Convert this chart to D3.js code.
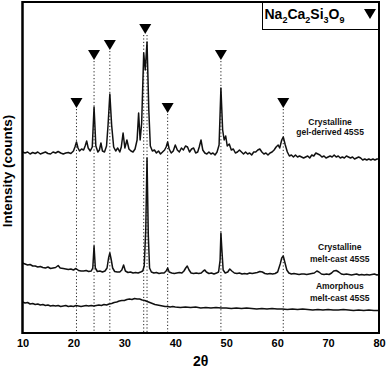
<!DOCTYPE html>
<html>
<head>
<meta charset="utf-8">
<script src="https://cdn.jsdelivr.net/npm/d3@7"></script>
<style>
  body { margin: 0; background: #fff; }
  svg { display: block; font-family: Arial, "Liberation Sans", sans-serif; }
</style>
</head>
<body>
<svg id="chart" width="387" height="368"></svg>
<script>
// XRD patterns of 45S5 samples
// counts are arbitrary units, each pattern already carries its vertical offset

const xTicks = [10, 20, 30, 40, 50, 60, 70, 80];

// crystalline gel-derived 45S5 (top trace)
const gelDerived = [
  [10,181],[10.5,180],[11,181],[11.5,179],[12,180.5],[12.5,179.5],[13,181],[13.5,179],[14,180],[14.5,181],
  [15,179.5],[15.5,179],[16,181],[16.5,180],[17,181.5],[17.5,180],[18,179],[18.5,180],[19,180.5],[19.5,179.5],
  [20,182],[20.3,186],[20.6,191],[20.9,185],[21.2,182],[21.6,184],[22,183],[22.3,187],[22.6,192],[22.9,185],
  [23.3,182],[23.7,186],[24.05,226],[24.4,187],[24.8,181],[25.1,183],[25.4,190],[25.7,182],[26.1,181],[26.5,187],
  [26.8,208],[27.15,239],[27.5,208],[27.9,186],[28.3,182],[28.7,185],[29.1,181],[29.4,186],[29.75,200],[30.1,185],
  [30.5,193],[30.9,184],[31.3,182],[31.7,181],[32.1,184],[32.5,193],[32.8,220],[33.1,193],[33.4,210],[33.8,280],
  [34.1,263],[34.45,291],[34.8,223],[35.1,187],[35.5,182],[35.9,183],[36.3,180],[36.7,182],[37.1,179],[37.5,181],
  [37.9,183],[38.2,186],[38.5,191],[38.8,184],[39.2,180],[39.6,182],[40,188],[40.4,183],[40.8,181],[41.2,185],
  [41.6,183],[42,187],[42.4,186],[42.8,181],[43.2,184],[43.6,185],[44,180],[44.4,181],[44.7,186],[45.05,193],
  [45.4,183],[45.8,180],[46.2,179],[46.6,181],[47,179],[47.4,180],[47.8,178],[48.2,181],[48.6,188],[48.96,245],
  [49.3,203],[49.6,193],[49.9,197],[50.2,187],[50.6,189],[51,183],[51.4,184],[51.8,180],[52.2,181],[52.6,183],
  [53,181],[53.4,179],[53.8,181],[54.2,179],[54.6,180],[55,178],[55.4,181],[55.8,181],[56.2,183],[56.6,184],
  [57,181],[57.4,179],[57.8,180],[58.2,178],[58.6,180],[59,181],[59.4,183],[59.8,186],[60.2,188],[60.5,185],
  [60.9,193],[61.2,196],[61.6,188],[62,181],[62.4,177],[62.8,178],[63.2,176],[63.6,178],[64,176],[64.4,177],
  [64.8,176],[65.2,175],[65.6,176],[66,177],[66.4,175],[66.8,178],[67.2,177],[67.6,180],[68,179],[68.4,178],
  [68.8,176],[69.2,177],[69.6,175],[70,176],[70.4,177],[70.8,176],[71.2,178],[71.6,176],[72,177],[72.4,175],
  [72.8,176],[73.2,175],[73.6,177],[74,176],[74.4,175],[74.8,176],[75.2,174],[75.6,175],[76,176],[76.4,175],
  [76.8,173],[77.2,174],[77.6,173],[78,174],[78.4,173],[78.8,174],[79.2,173],[79.6,174],[80,174]
];

// crystalline melt-cast 45S5 (middle trace)
const meltCrystalline = [
  [10,70],[10.5,69],[11,68],[11.5,68.5],[12,67],[12.5,67],[13,66],[13.5,66.5],[14,65.5],[14.5,65],
  [15,66],[15.5,64.5],[16,65],[16.5,65.5],[17,67.5],[17.4,65],[18,64.5],[18.5,64],[19,63.5],[19.5,64],
  [20,63],[20.5,64.5],[21,62.5],[21.5,62],[22,62],[22.5,62.5],[23,61.5],[23.5,62],[23.8,65],[24.05,87],
  [24.3,65],[24.7,61.5],[25.2,62],[25.7,61],[26.2,62],[26.6,65],[26.9,75],[27.15,80],[27.4,74],[27.7,65],
  [28.1,61.5],[28.6,61],[29.1,61],[29.5,63],[29.85,68],[30.2,62],[30.7,60.5],[31.2,61],[31.7,60],[32.2,60.5],
  [32.7,60],[33.2,61],[33.6,62],[33.9,67],[34.2,103],[34.45,175],[34.7,98],[34.95,65],[35.3,61],[35.8,60],
  [36.3,60.5],[36.8,59.5],[37.3,60],[37.8,60],[38.2,62],[38.5,65],[38.8,61],[39.3,60],[39.8,59.5],[40.3,60],
  [40.8,60.5],[41.3,60],[41.7,62],[42.05,65],[42.35,67],[42.7,63],[43.1,60],[43.6,59.5],[44.1,60],[44.6,59.5],
  [45.1,60],[45.5,62],[45.8,63],[46.1,61],[46.6,59.5],[47.1,60],[47.6,59],[48.1,60],[48.5,61],[48.8,73],
  [48.96,100],[49.15,83],[49.4,63],[49.8,60],[50.3,61],[50.7,64],[51.1,62],[51.6,60],[52.1,59.5],[52.6,60],
  [53.1,59],[53.6,59.5],[54.1,59],[54.6,60],[55.1,59.5],[55.6,60],[56.1,60.5],[56.6,61.5],[57.1,61],[57.6,59.5],
  [58.1,59],[58.6,59.5],[59.1,59],[59.6,59.5],[60.1,61],[60.6,69],[60.9,75],[61.2,77],[61.5,71],[61.9,63],
  [62.3,60],[62.8,59],[63.3,59.5],[63.8,59],[64.3,58.5],[64.8,59],[65.3,59],[65.8,58.5],[66.3,59],[66.8,59.5],
  [67.3,60],[67.8,62],[68.2,61],[68.7,59],[69.2,58.5],[69.7,59],[70.2,58.5],[70.7,60],[71.1,62],[71.6,62.5],
  [72.1,61],[72.6,59],[73.1,58.5],[73.6,59],[74.1,58.5],[74.6,58],[75.1,58.5],[75.6,59],[76.1,58],[76.6,58.5],
  [77.1,58],[77.6,58.5],[78.1,58],[78.6,58.5],[79.1,59],[79.6,58],[80,58.5]
];

// amorphous melt-cast 45S5 (bottom trace)
const meltAmorphous = [
  [10,31],[10.5,30],[11,30.5],[11.5,29],[12,29.5],[12.5,28.5],[13,29],[13.5,28],[14,28.5],[14.5,27.5],
  [15,28],[15.5,27],[16,27.5],[16.5,27],[17,27.5],[17.5,26.5],[18,27],[18.5,27.5],[19,26.5],[19.5,27],
  [20,26.5],[20.5,27.5],[21,27],[21.5,26.5],[22,27],[22.5,27.5],[23,27],[23.5,27.5],[24,27],[24.5,27.5],
  [25,28],[25.5,27.5],[26,28.5],[26.5,28],[27,29],[27.5,29.5],[28,30.5],[28.5,31],[29,32],[29.5,32.5],
  [30,32.5],[30.5,33.5],[31,34],[31.5,33.5],[32,34.5],[32.5,34],[33,34],[33.5,33],[34,32.5],[34.5,31.5],
  [35,30.5],[35.5,29.5],[36,28.5],[36.5,28],[37,27.5],[37.5,27],[38,26.5],[38.5,26.5],[39,26],[39.5,26.5],
  [40,26],[41,25.5],[42,26],[43,25.5],[44,26],[45,25],[46,25.5],[47,25],[48,25.5],[49,25],
  [50,25],[51,24.5],[52,25],[53,24.5],[54,25],[55,24.5],[56,24],[57,24.5],[58,24],[59,24.5],
  [60,24],[61,24],[62,23.5],[63,24],[64,23.5],[65,24],[66,23.5],[67,23],[68,23.5],[69,23],
  [70,23.5],[71,23],[72,23],[73,23.5],[74,23],[75,22.5],[76,23],[77,22.5],[78,23],[79,22.5],[80,22.5]
];

// Na2Ca2Si3O9 reflections: marker positions and the height of each marker
const peakAngles = [20.6, 24.05, 27.15, 34.1, 38.5, 48.96, 61.2];
const peakMarkerCounts = [235, 283, 293, 309, 230, 283, 235];
// dotted guide lines (the 34 deg marker covers two reflections)
const guideAngles = [20.6, 24.05, 27.15, 33.8, 34.45, 38.5, 48.96, 61.2];

const formulaParts = [['Na', '2'], ['Ca', '2'], ['Si', '3'], ['O', '9']];

const traceLabels = [
  { lines: ['Crystalline', 'gel-derived 45S5'], angle: 70.4, counts: [208, 198] },
  { lines: ['Crystalline', 'melt-cast 45S5'], angle: 72.3, counts: [83, 71.5] },
  { lines: ['Amorphous', 'melt-cast 45S5'], angle: 72.3, counts: [44, 32] }
];

const MARGIN = { left: 22.5, right: 8, top: 2, bottom: 35 };
const WIDTH = 387, HEIGHT = 368;

const svg = d3.select('#chart');

const xScale = d3.scaleLinear()
  .domain([10, 80])
  .range([MARGIN.left, WIDTH - MARGIN.right]);
const yScale = d3.scaleLinear()
  .domain([0, 331])
  .range([HEIGHT - MARGIN.bottom, MARGIN.top]);

// guide lines first so the traces sit on top
const triH = 10, triW = 6;
svg.append('g')
  .selectAll('line')
  .data(guideAngles)
  .join('line')
  .attr('x1', d => xScale(d))
  .attr('x2', d => xScale(d))
  .attr('y1', d => {
    // hang from the nearest marker
    let i = d3.leastIndex(peakAngles, a => Math.abs(a - d));
    return yScale(peakMarkerCounts[i]) + triH + 1;
  })
  .attr('y2', yScale(0))
  .attr('stroke', '#222')
  .attr('stroke-width', 1)
  .attr('stroke-dasharray', '1.2,2.2');

const line = d3.line()
  .x(d => xScale(d[0]))
  .y(d => yScale(d[1]));

svg.append('g')
  .selectAll('path')
  .data([gelDerived, meltCrystalline, meltAmorphous])
  .join('path')
  .attr('d', line)
  .attr('fill', 'none')
  .attr('stroke', '#111')
  .attr('stroke-width', 1.5)
  .attr('stroke-linejoin', 'round');

// down-pointing triangles
const triPath = `M${-triW},0 L${triW},0 L0,${triH} Z`;
svg.append('g')
  .selectAll('path')
  .data(peakAngles)
  .join('path')
  .attr('d', triPath)
  .attr('transform', (d, i) => `translate(${xScale(d)},${yScale(peakMarkerCounts[i])})`)
  .attr('fill', '#000');

// trace labels
traceLabels.forEach(lb => {
  lb.lines.forEach((t, j) => {
    svg.append('text')
      .attr('x', xScale(lb.angle))
      .attr('y', yScale(lb.counts[j]))
      .attr('text-anchor', 'middle')
      .attr('font-size', '8.5px')
      .attr('font-weight', 'bold')
      .attr('fill', '#111')
      .text(t);
  });
});

// frame
svg.append('rect')
  .attr('x', MARGIN.left)
  .attr('y', MARGIN.top)
  .attr('width', WIDTH - MARGIN.right - MARGIN.left)
  .attr('height', HEIGHT - MARGIN.bottom - MARGIN.top)
  .attr('fill', 'none')
  .attr('stroke', '#000')
  .attr('stroke-width', 2);

// x axis: labels only
const xAxis = svg.append('g')
  .attr('transform', `translate(0,${yScale(0)})`)
  .call(d3.axisBottom(xScale).tickValues(xTicks).tickSize(0).tickPadding(6));
xAxis.select('.domain').remove();
xAxis.selectAll('text')
  .attr('font-size', '11px')
  .attr('font-weight', 'bold')
  .attr('font-family', 'Arial, "Liberation Sans", sans-serif')
  .attr('fill', '#000');

svg.append('text')
  .attr('x', (MARGIN.left + WIDTH - MARGIN.right) / 2)
  .attr('y', 366)
  .attr('text-anchor', 'middle')
  .attr('font-size', '14px')
  .attr('font-weight', 'bold')
  .text('2θ');

svg.append('text')
  .attr('transform', 'translate(12,171) rotate(-90)')
  .attr('text-anchor', 'middle')
  .attr('font-size', '13.5px')
  .attr('font-weight', 'bold')
  .text('Intensity (counts)');

// legend box
const legendX = 262.5, legendRight = WIDTH - MARGIN.right, legendBottom = 29.5;
svg.append('rect')
  .attr('x', legendX)
  .attr('y', MARGIN.top)
  .attr('width', legendRight - legendX)
  .attr('height', legendBottom - MARGIN.top)
  .attr('fill', '#fff')
  .attr('stroke', '#000')
  .attr('stroke-width', 1);

const formula = svg.append('text')
  .attr('x', legendX + 2)
  .attr('y', 19)
  .attr('font-size', '14px')
  .attr('font-weight', 'bold');
formulaParts.forEach(([el, n], i) => {
  formula.append('tspan').attr('font-size', '14px').attr('dy', i === 0 ? 0 : -4).text(el);
  formula.append('tspan').attr('font-size', '9px').attr('dy', 4).text(n);
});
svg.append('path')
  .attr('d', triPath)
  .attr('transform', `translate(${legendRight - 9},9)`)
  .attr('fill', '#000');

// redraw the frame over the legend box
svg.append('rect')
  .attr('x', MARGIN.left)
  .attr('y', MARGIN.top)
  .attr('width', WIDTH - MARGIN.right - MARGIN.left)
  .attr('height', HEIGHT - MARGIN.bottom - MARGIN.top)
  .attr('fill', 'none')
  .attr('stroke', '#000')
  .attr('stroke-width', 2);
</script>
</body>
</html>
